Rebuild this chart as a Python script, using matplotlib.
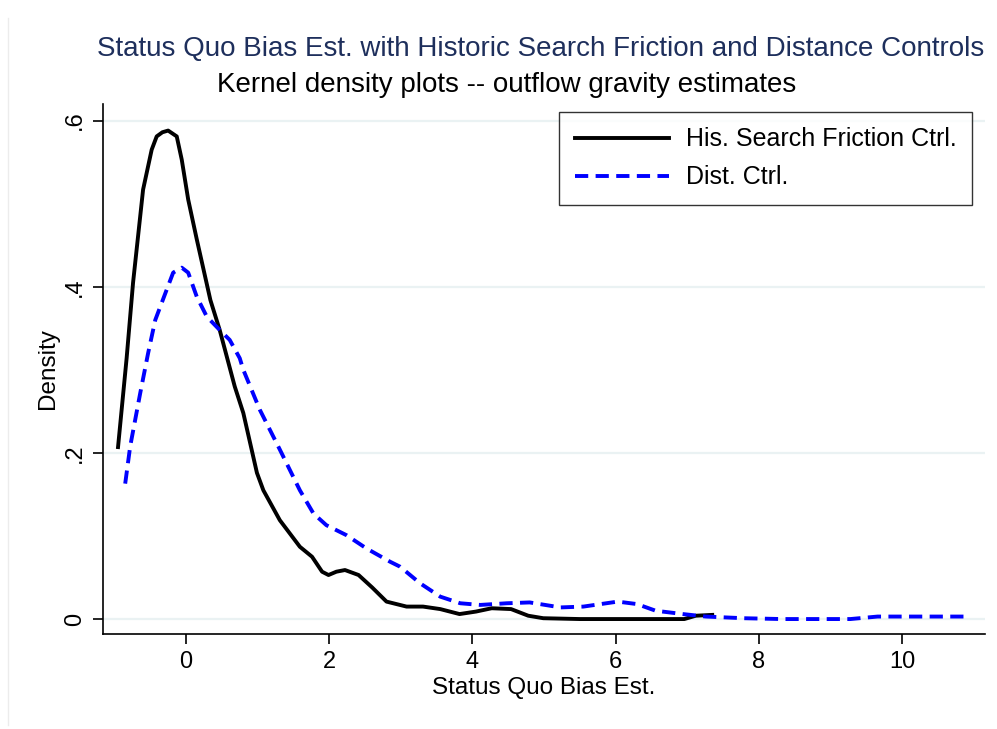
import matplotlib
matplotlib.use("Agg")
import matplotlib.pyplot as plt
from matplotlib.lines import Line2D

plt.rcParams["font.family"] = ["Liberation Sans", "DejaVu Sans"]

# kernel density, historic search friction control
hsf_x = [-0.95, -0.83, -0.74, -0.60, -0.48, -0.41, -0.33, -0.25, -0.13, -0.06, 0.03, 0.15,
         0.34, 0.47, 0.68, 0.80, 0.99, 1.08, 1.31, 1.59, 1.76, 1.90, 1.99, 2.10, 2.22,
         2.41, 2.60, 2.80, 3.08, 3.31, 3.55, 3.82, 4.05, 4.27, 4.54, 4.78, 4.99, 5.5,
         6.0, 6.5, 6.96, 7.12, 7.35]
hsf_y = [0.207, 0.314, 0.405, 0.517, 0.565, 0.581, 0.586, 0.588, 0.581, 0.553, 0.505, 0.457,
         0.384, 0.348, 0.280, 0.248, 0.176, 0.155, 0.119, 0.087, 0.075, 0.057, 0.053, 0.057, 0.059,
         0.053, 0.038, 0.021, 0.015, 0.015, 0.012, 0.006, 0.009, 0.013, 0.012, 0.004, 0.001, 0.0,
         0.0, 0.0, 0.0, 0.004, 0.005]

# kernel density, distance control
dist_x = [-0.85, -0.78, -0.64, -0.53, -0.43, -0.29, -0.18, -0.06, 0.03, 0.15, 0.29, 0.47,
          0.61, 0.75, 0.80, 1.03, 1.31, 1.59, 1.78, 1.96, 2.24, 2.52, 2.85, 2.99, 3.27,
          3.55, 3.83, 4.11, 4.48, 4.80, 5.23, 5.55, 6.03, 6.30, 6.56, 6.94, 7.26, 7.79,
          8.32, 9.28, 9.66, 10.03, 10.88]
dist_y = [0.163, 0.208, 0.272, 0.320, 0.360, 0.392, 0.417, 0.423, 0.417, 0.388, 0.364, 0.348,
          0.336, 0.314, 0.300, 0.252, 0.204, 0.155, 0.127, 0.113, 0.101, 0.085, 0.069, 0.063, 0.043,
          0.027, 0.019, 0.017, 0.019, 0.020, 0.014, 0.015, 0.021, 0.018, 0.010, 0.006, 0.003, 0.001,
          0.0, 0.0, 0.003, 0.003, 0.003]

xticks = [0, 2, 4, 6, 8, 10]
yticks = [0, 0.2, 0.4, 0.6]
ytick_labels = ["0", ".2", ".4", ".6"]

W, H = 997, 729
fig = plt.figure(figsize=(W / 100, H / 100), dpi=100)
ax = fig.add_axes([103 / W, 1 - 634 / H, (985 - 103) / W, (634 - 104) / H])

for yv in yticks:
    ax.axhline(yv, color="#eaf2f3", lw=1.6, zorder=0)

ax.plot(hsf_x, hsf_y, color="black", lw=2.8, solid_joinstyle="round",
        label="His. Search Friction Ctrl.")
ax.plot(dist_x, dist_y, color="#0000ff", lw=2.8, dashes=(3.4, 1.9),
        label="Dist. Ctrl.")

ax.set_xlim(-1.16, 11.16)
ax.set_ylim(-0.018, 0.620)
ax.set_xticks(xticks)
ax.set_yticks(yticks)
ax.set_yticklabels(ytick_labels, rotation=90, va="center")
ax.tick_params(axis="both", labelsize=17, length=7, width=1.2, direction="out", pad=5)
for s in ("top", "right"):
    ax.spines[s].set_visible(False)
for s in ("left", "bottom"):
    ax.spines[s].set_linewidth(1.2)

ax.set_xlabel("Status Quo Bias Est.", fontsize=17.5, labelpad=3)
ax.set_ylabel("Density", fontsize=17.5, labelpad=4)

leg = ax.legend(loc="upper right", bbox_to_anchor=(972 / W, 1 - 112 / H),
                bbox_transform=fig.transFigure, fontsize=18, frameon=True,
                fancybox=False, edgecolor="black", handlelength=3.76,
                borderpad=0.62, labelspacing=0.55, handletextpad=0.68,
                borderaxespad=0)
leg.get_frame().set_linewidth(1.0)

fig.text(541 / W, 1 - 49 / H, "Status Quo Bias Est. with Historic Search Friction and Distance Controls",
         ha="center", va="center", fontsize=20, color="#1e2f5c")
fig.text(507 / W, 1 - 85 / H, "Kernel density plots -- outflow gravity estimates",
         ha="center", va="center", fontsize=20, color="black")

fig.add_artist(Line2D([8 / W, 8 / W], [1 - 725 / H, 1 - 18 / H],
                      transform=fig.transFigure, color="#ececec", lw=1))

fig.savefig("out.png", dpi=100)
